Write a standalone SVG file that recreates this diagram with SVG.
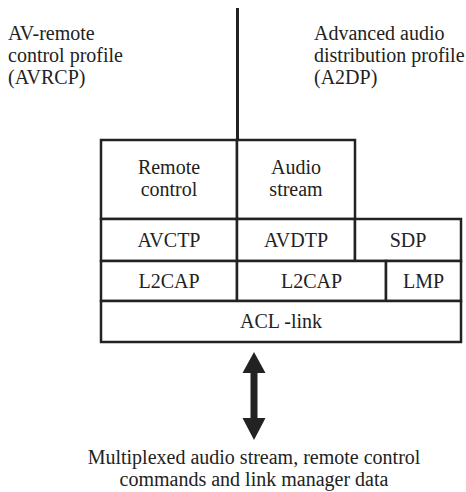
<svg xmlns="http://www.w3.org/2000/svg" width="466" height="492" viewBox="0 0 466 492" font-family="Liberation Serif, Times New Roman, DejaVu Serif, serif">
<style>
  text { font-family: "Liberation Serif", "Times New Roman", "DejaVu Serif", serif; font-size: 20px; fill: #222; }
  .c { text-anchor: middle; }
  .box { fill: #fff; stroke: #222; stroke-width: 2.5; }
  .ln { stroke: #222; stroke-width: 3; fill: none; }
</style>
<rect width="466" height="492" fill="#fff"/>
<g id="label-avrcp">
  <text x="8" y="40">AV-remote</text>
  <text x="8" y="62">control profile</text>
  <text x="8" y="84">(AVRCP)</text>
</g>
<g id="label-a2dp">
  <text x="314" y="40">Advanced audio</text>
  <text x="314" y="62">distribution profile</text>
  <text x="314" y="84">(A2DP)</text>
</g>
<g id="connectors">
  <line class="ln" x1="237.5" y1="8" x2="237.5" y2="140"/>
  <polygon points="254,352 265.5,373 257.5,373 257.5,418 265.5,418 254,440 242.5,418 250.5,418 250.5,373 242.5,373" fill="#222"/>
</g>
<g id="remote-control">
  <rect class="box" x="101" y="140" width="136" height="79"/>
  <text class="c" x="169" y="174">Remote</text>
  <text class="c" x="169" y="196">control</text>
</g>
<g id="audio-stream">
  <rect class="box" x="237" y="140" width="118" height="79"/>
  <text class="c" x="296" y="174">Audio</text>
  <text class="c" x="296" y="196">stream</text>
</g>
<g id="avctp">
  <rect class="box" x="101" y="219" width="136" height="42"/>
  <text class="c" x="169" y="247">AVCTP</text>
</g>
<g id="avdtp">
  <rect class="box" x="237" y="219" width="118" height="42"/>
  <text class="c" x="296" y="247">AVDTP</text>
</g>
<g id="sdp">
  <rect class="box" x="355" y="219" width="106" height="42"/>
  <text class="c" x="408" y="247">SDP</text>
</g>
<g id="l2cap-1">
  <rect class="box" x="101" y="261" width="136" height="40"/>
  <text class="c" x="169" y="288">L2CAP</text>
</g>
<g id="l2cap-2">
  <rect class="box" x="237" y="261" width="149" height="40"/>
  <text class="c" x="311.5" y="288">L2CAP</text>
</g>
<g id="lmp">
  <rect class="box" x="386" y="261" width="75" height="40"/>
  <text class="c" x="423.5" y="288">LMP</text>
</g>
<g id="acl-link">
  <rect class="box" x="101" y="301" width="360" height="41"/>
  <text class="c" x="281" y="328">ACL -link</text>
</g>
<g id="label-bottom">
  <text class="c" x="254" y="464">Multiplexed audio stream, remote control</text>
  <text class="c" x="254" y="486">commands and link manager data</text>
</g>
</svg>
